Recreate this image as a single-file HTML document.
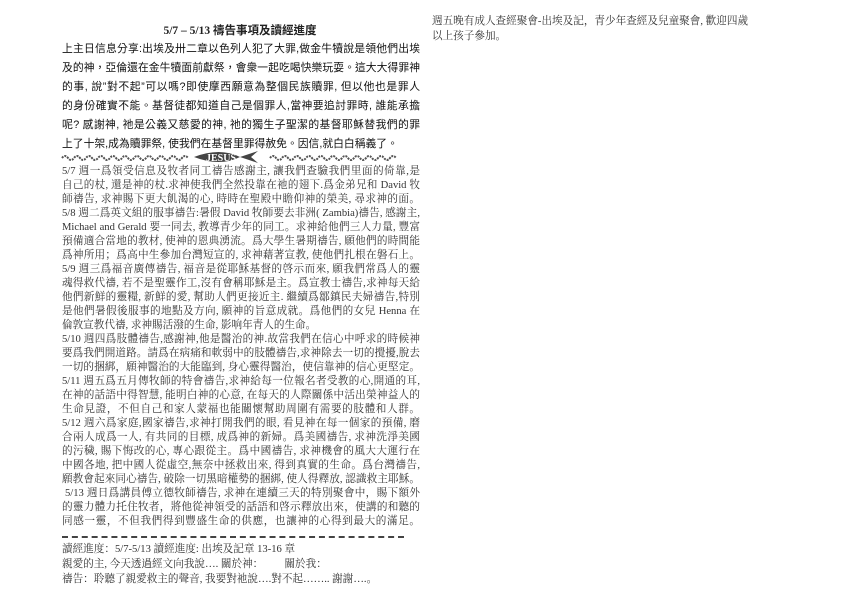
<!DOCTYPE html>
<html><head><meta charset="utf-8">
<style>
html,body{margin:0;padding:0;background:#fff;}
body{width:842px;height:595px;position:relative;overflow:hidden;color:#222;}
.l{position:absolute;left:62px;width:358px;white-space:nowrap;text-align:justify;text-align-last:justify;overflow:hidden;}
.s{font-family:"Liberation Sans","Noto Sans CJK TC",sans-serif;font-size:10.8px;font-weight:normal;color:#111;}
.r{font-family:"Liberation Serif","Noto Serif CJK SC",serif;font-size:10.6px;color:#333;}
.b{font-family:"Liberation Serif","Noto Serif CJK SC",serif;font-size:10.6px;color:#333;position:absolute;left:62px;white-space:nowrap;}
</style></head><body>
<div style="position:absolute;left:0;width:480px;top:22px;text-align:center;font-family:'Liberation Serif','Noto Sans CJK TC',serif;font-weight:bold;font-size:11.5px;">5/7 – 5/13 禱告事項及讀經進度</div>
<div class="l s" style="top:40px">上主日信息分享:出埃及卅二章以色列人犯了大罪,做金牛犢說是領他們出埃</div>
<div class="l s" style="top:59px">及的神，亞倫還在金牛犢面前獻祭，會衆一起吃喝快樂玩耍。這大大得罪神</div>
<div class="l s" style="top:78px">的事, 說”對不起”可以嗎?即使摩西願意為整個民族贖罪, 但以他也是罪人</div>
<div class="l s" style="top:97px">的身份確實不能。基督徒都知道自己是個罪人,當神要追討罪時, 誰能承擔</div>
<div class="l s" style="top:116px">呢? 感謝神, 祂是公義又慈愛的神, 祂的獨生子聖潔的基督耶穌替我們的罪</div>
<div class="l s" style="top:135px;text-align-last:left">上了十架,成為贖罪祭, 使我們在基督里罪得赦免。因信,就白白稱義了。</div>
<svg style="position:absolute;left:60px;top:150px" width="340" height="14">
<path d="M2 8 q3 -4 6 0 t6 0 t6 0 t6 0 t6 0 t6 0 t6 0 t6 0 t6 0 t6 0 t6 0 t6 0 t6 0 t6 0 t6 0 t6 0 t6 0 t6 0 t6 0 t6 0 t6 0" stroke="#555" stroke-width="2" fill="none" stroke-dasharray="2 1"/>
<path d="M210 8 q3 -4 6 0 t6 0 t6 0 t6 0 t6 0 t6 0 t6 0 t6 0 t6 0 t6 0 t6 0 t6 0 t6 0 t6 0 t6 0 t6 0 t6 0 t6 0 t6 0 t6 0 t6 0" stroke="#555" stroke-width="2" fill="none" stroke-dasharray="2 1"/>
<path d="M134 7 Q160 -3 180 7 L198 1 L191 7 L198 13 L180 7 Q160 17 134 7 Z" fill="#444"/>
<text x="146" y="11" font-family="Liberation Serif" font-weight="bold" font-size="10" fill="#fff">JESUS</text>
</svg>
<div class="l r" style="top:163px">5/7 週一爲領受信息及牧者同工禱告感謝主, 讓我們查驗我們里面的倚靠,是</div>
<div class="l r" style="top:177px">自己的杖, 還是神的杖.求神使我們全然投靠在祂的翅下.爲金弟兄和 David 牧</div>
<div class="l r" style="top:191px">師禱告, 求神賜下更大飢渴的心, 時時在聖殿中瞻仰神的榮美, 尋求神的面。</div>
<div class="l r" style="top:205px">5/8 週二爲英文組的服事禱告:暑假 David 牧師要去非洲( Zambia)禱告, 感謝主,</div>
<div class="l r" style="top:219px">Michael and Gerald 要一同去, 教導青少年的同工。求神給他們三人力量, 豐富</div>
<div class="l r" style="top:233px">預備適合當地的教材, 使神的恩典湧流。爲大學生暑期禱告, 願他們的時間能</div>
<div class="l r" style="top:247px">爲神所用；爲高中生參加台灣短宣的, 求神藉著宣教, 使他們扎根在磐石上。</div>
<div class="l r" style="top:261px">5/9 週三爲福音廣傳禱告, 福音是從耶穌基督的啓示而來, 願我們常爲人的靈</div>
<div class="l r" style="top:275px">魂得救代禱, 若不是聖靈作工,沒有會稱耶穌是主。爲宣教士禱告,求神每天給</div>
<div class="l r" style="top:289px">他們新鮮的靈糧, 新鮮的愛, 幫助人們更接近主. 繼續爲鄒鎮民夫婦禱告,特別</div>
<div class="l r" style="top:303px">是他們暑假後服事的地點及方向, 願神的旨意成就。爲他們的女兒 Henna 在</div>
<div class="l r" style="top:317px;width:250px">倫敦宣教代禱, 求神賜活潑的生命, 影响年青人的生命。</div>
<div class="l r" style="top:331px">5/10 週四爲肢體禱告,感謝神,他是醫治的神.故當我們在信心中呼求的時候神</div>
<div class="l r" style="top:345px">要爲我們開道路。請爲在病痛和軟弱中的肢體禱告,求神除去一切的攪擾,脫去</div>
<div class="l r" style="top:359px">一切的捆綁，願神醫治的大能臨到, 身心靈得醫治，使信靠神的信心更堅定。</div>
<div class="l r" style="top:373px">5/11 週五爲五月傳牧師的特會禱告,求神給每一位報名者受教的心,開通的耳,</div>
<div class="l r" style="top:387px">在神的話語中得智慧, 能明白神的心意, 在每天的人際關係中活出榮神益人的</div>
<div class="l r" style="top:401px">生命見證，不但自己和家人蒙福也能關懷幫助周圍有需要的肢體和人群。</div>
<div class="l r" style="top:415px">5/12 週六爲家庭,國家禱告,求神打開我們的眼, 看見神在每一個家的預備, 磨</div>
<div class="l r" style="top:429px">合兩人成爲一人, 有共同的目標, 成爲神的新婦。爲美國禱告, 求神洗淨美國</div>
<div class="l r" style="top:443px">的污穢, 賜下悔改的心, 專心跟從主。爲中國禱告, 求神機會的風大大運行在</div>
<div class="l r" style="top:457px">中國各地, 把中國人從虛空,無奈中拯救出來, 得到真實的生命。爲台灣禱告,</div>
<div class="l r" style="top:471px">願教會起來同心禱告, 破除一切黑暗權勢的捆綁, 使人得釋放, 認識救主耶穌。</div>
<div class="l r" style="top:485px;left:65px;width:355px">5/13 週日爲講員傅立德牧師禱告, 求神在連續三天的特別聚會中，賜下額外</div>
<div class="l r" style="top:499px">的靈力體力托住牧者，將他從神領受的話語和啓示釋放出來，使講的和聽的</div>
<div class="l r" style="top:513px">同感一靈，不但我們得到豐盛生命的供應，也讓神的心得到最大的滿足。</div>
<div style="position:absolute;left:62px;top:536px;width:342px;border-top:2.5px dashed #444;"></div>
<div class="b" style="top:541px">讀經進度：5/7-5/13  讀經進度: 出埃及記章 13-16 章</div>
<div class="b" style="top:556px">親愛的主, 今天透過經文向我說…. 關於神：&nbsp;&nbsp;&nbsp;&nbsp;&nbsp;&nbsp;&nbsp;&nbsp;關於我：</div>
<div class="b" style="top:571px">禱告：聆聽了親愛救主的聲音, 我要對祂說….對不起…….. 謝謝….。</div>
<div class="b" style="left:432px;top:13px">週五晚有成人查經聚會-出埃及記，青少年查經及兒童聚會, 歡迎四歲</div>
<div class="b" style="left:432px;top:28px">以上孩子參加。</div>
</body></html>
